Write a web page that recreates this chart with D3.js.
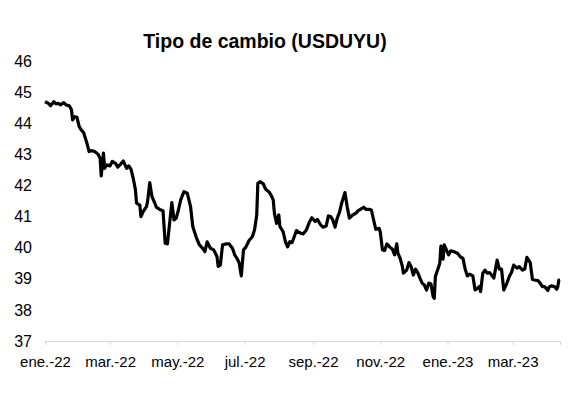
<!DOCTYPE html>
<html>
<head>
<meta charset="utf-8">
<script src="https://cdn.jsdelivr.net/npm/d3@7"></script>
<style>
    body { margin: 0; background: #fff; }
    svg { display: block; font-family: "Liberation Sans", Arial, sans-serif; }
</style>
</head>
<body>
<div id="chart"></div>
<script>
/*------------------- Data --------------------*/
const title = "Tipo de cambio (USDUYU)";
const startDate = new Date(2022, 0, 1);
const endDate = new Date(2023, 3, 13);
const monthNames = ["ene.", "feb.", "mar.", "abr.", "may.", "jun.", "jul.", "ago.", "sep.", "oct.", "nov.", "dic."];
const yTicks = [37, 38, 39, 40, 41, 42, 43, 44, 45, 46];

// days since 1 Jan 2022
const dayOffset = [0,3,5,8,10,12,14,17,19,22,24,25,27,29,31,33,35,38,40,42,45,48,50,51,53,54,56,59,61,64,66,68,71,74,76,78,80,82,83,86,87,89,92,93,95,97,99,101,104,107,109,111,113,115,117,119,121,123,126,129,132,134,137,140,143,145,147,150,153,156,157,159,161,164,167,170,172,174,176,178,180,182,185,188,190,192,193,195,198,200,203,205,207,208,210,212,213,216,218,220,222,224,226,228,231,234,237,240,242,245,247,250,252,255,257,259,261,263,265,267,269,272,274,276,279,282,284,286,289,291,294,296,298,300,303,304,306,308,310,313,315,317,319,320,322,324,325,328,330,332,334,336,338,340,342,344,346,348,350,352,353,354,356,358,359,361,362,364,366,368,371,374,377,379,381,383,385,388,390,392,394,395,397,399,401,403,405,407,410,412,414,416,419,421,423,425,428,430,433,435,437,440,442,444,447,449,451,453,456,457,459,462,464,465,466,467];

const usduyu = [44.69,44.64,44.56,44.69,44.62,44.64,44.59,44.66,44.59,44.56,44.43,44.11,44.21,44.19,43.89,43.78,43.70,43.36,43.09,43.12,43.09,43.01,42.87,42.31,43.04,42.55,42.66,42.63,42.77,42.71,42.59,42.66,42.79,42.55,42.63,42.52,42.23,41.86,41.43,41.37,41.00,41.16,41.32,41.48,42.09,41.64,41.48,41.30,41.23,41.19,40.14,40.12,40.78,41.45,40.89,40.95,41.21,41.53,41.80,41.75,41.32,40.68,40.35,40.09,39.98,39.87,40.19,39.98,39.93,39.71,39.40,39.44,40.09,40.12,40.12,39.98,39.77,39.66,39.52,39.09,39.93,40.01,40.23,40.35,40.57,41.05,42.07,42.12,42.05,41.88,41.80,41.69,41.53,41.11,40.78,41.05,40.68,40.51,40.19,40.03,40.19,40.16,40.35,40.55,40.48,40.44,40.57,40.84,40.96,40.84,40.91,40.73,40.66,40.70,41.02,41.00,40.89,40.66,40.95,41.13,41.43,41.77,41.32,40.95,41.05,41.11,41.19,41.23,41.30,41.23,41.23,41.21,40.89,40.59,40.62,40.51,39.93,39.91,40.12,40.01,39.95,39.77,40.12,39.82,39.66,39.41,39.18,39.28,39.52,39.39,39.12,39.31,39.20,39.02,38.86,38.80,38.64,38.86,38.83,38.42,38.37,39.07,39.28,39.50,40.05,39.63,40.09,39.93,39.77,39.90,39.87,39.82,39.69,39.66,39.31,39.09,39.15,39.09,38.64,38.69,38.75,38.59,39.18,39.28,39.18,39.20,39.12,39.02,39.60,39.31,39.31,38.64,38.87,39.07,39.20,39.44,39.34,39.39,39.28,39.31,39.69,39.52,38.98,38.96,38.94,38.86,38.75,38.75,38.62,38.73,38.77,38.75,38.66,38.75,38.96,38.96];

const data = dayOffset.map((d, i) => ({
    date: d3.timeDay.offset(startDate, d),
    value: usduyu[i]
}));

/*------------------- Layout --------------------*/
const width = 576, height = 393;
const margin = { left: 45, right: 16, top: 61, bottom: 52 };

const svg = d3.select("#chart").append("svg")
    .attr("width", width)
    .attr("height", height);

const x = d3.scaleTime()
    .domain([startDate, endDate])
    .range([margin.left, width - margin.right]);

const y = d3.scaleLinear()
    .domain([37, 46])
    .range([height - margin.bottom, margin.top]);

/*------------------- Axes --------------------*/
const xAxis = svg.append("g")
    .attr("transform", `translate(0,${y(37)})`)
    .call(d3.axisBottom(x)
        .ticks(d3.timeMonth.every(2))
        .tickSize(4)
        .tickPadding(11)
        .tickFormat(d => monthNames[d.getMonth()] + "-" + String(d.getFullYear()).slice(2)));

xAxis.select(".domain").attr("stroke", "#d9d9d9");
xAxis.selectAll(".tick line").attr("stroke", "#d9d9d9");
xAxis.selectAll(".tick text")
    .attr("font-size", 15)
    .attr("fill", "#000");

const yAxis = svg.append("g")
    .attr("transform", `translate(${margin.left},0)`)
    .call(d3.axisLeft(y).tickValues(yTicks).tickSize(0).tickPadding(13));

yAxis.select(".domain").remove();
yAxis.selectAll(".tick text")
    .attr("font-size", 16)
    .attr("fill", "#000");

/*------------------- Line --------------------*/
const line = d3.line()
    .x(d => x(d.date))
    .y(d => y(d.value));

svg.append("path")
    .datum(data)
    .attr("d", line)
    .attr("fill", "none")
    .attr("stroke", "#000")
    .attr("stroke-width", 3.2)
    .attr("stroke-linejoin", "round");

/*------------------- Title --------------------*/
svg.append("text")
    .attr("x", 265)
    .attr("y", 48)
    .attr("text-anchor", "middle")
    .attr("font-size", 19.5)
    .attr("font-weight", "bold")
    .text(title);
</script>
</body>
</html>
